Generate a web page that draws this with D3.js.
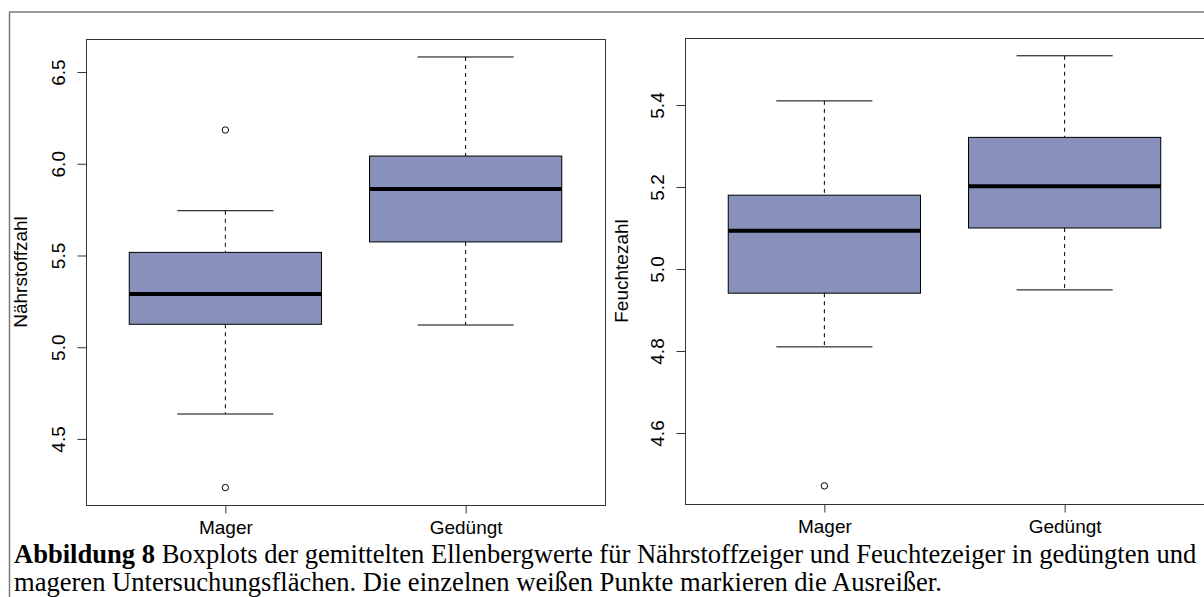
<!DOCTYPE html>
<html><head><meta charset="utf-8">
<script src="https://cdn.jsdelivr.net/npm/d3@7"></script>
<style>body{margin:0;background:#fff}svg{display:block}</style>
</head><body>
<svg id="c" width="1204" height="597"></svg>
<script>
const categories = ["Mager", "Gedüngt"];
// [whiskerLow, q1, median, q3, whiskerHigh]
const naehrstoffStats = [[4.636, 5.125, 5.290, 5.517, 5.744], [5.121, 5.574, 5.862, 6.042, 6.582]];
const naehrstoffOutliers = [[6.184, 4.235], []];
const feuchteStats = [[4.810, 4.941, 5.093, 5.180, 5.410], [4.949, 5.100, 5.202, 5.321, 5.520]];
const feuchteOutliers = [[4.471], []];
const naehrstoffTicks = [4.5, 5.0, 5.5, 6.0, 6.5];
const feuchteTicks = [4.6, 4.8, 5.0, 5.2, 5.4];
const captionBold = "Abbildung 8";
const captionLine1 = " Boxplots der gemittelten Ellenbergwerte für Nährstoffzeiger und Feuchtezeiger in gedüngten und";
const captionLine2 = "mageren Untersuchungsflächen. Die einzelnen weißen Punkte markieren die Ausreißer.";

const svg = d3.select("#c");
const FILL = "#8891bb";
const font = "'Liberation Sans', Arial, sans-serif";

const chartG = svg.append("g");

function panel(opts) {
  const {left, right, top, bottom, domain, stats, outliers, ticks, label, labelX, tickLabelX} = opts;
  const g = chartG.append("g");
  const y = d3.scaleLinear().domain(domain).range([bottom, top]);
  const x = d3.scaleLinear().domain([0.42, 2.58]).range([left, right]);
  g.append("rect").attr("x", left + 0.5).attr("y", top + 0.5)
    .attr("width", right - left).attr("height", bottom - top)
    .attr("fill", "none").attr("stroke", "#333").attr("stroke-width", 1);
  const yAxis = d3.axisLeft(y).tickValues(ticks).tickSize(9).tickFormat(d3.format(".1f"));
  const ya = g.append("g").attr("transform", `translate(${left + 0.5},0)`).call(yAxis);
  ya.select(".domain").remove();
  ya.selectAll(".tick line").attr("stroke", "#333");
  ya.selectAll(".tick text").remove();
  ya.selectAll(".tick").append("text")
    .attr("transform", `translate(${tickLabelX - left},0) rotate(-90)`)
    .attr("text-anchor", "middle").attr("dy", "0.35em")
    .attr("fill", "#000").attr("font-family", font).attr("font-size", 19)
    .text(d => d3.format(".1f")(d));
  const xAxis = d3.axisBottom(x).tickValues([1, 2]).tickSize(8).tickFormat((d) => categories[d - 1]);
  const xa = g.append("g").attr("transform", `translate(0,${bottom + 0.5})`).call(xAxis);
  xa.select(".domain").remove();
  xa.selectAll(".tick line").attr("stroke", "#333");
  xa.selectAll(".tick text").attr("y", 15).attr("dy", "0.71em")
    .attr("fill", "#000").attr("font-family", font).attr("font-size", 19);
  g.append("text").attr("transform", `translate(${labelX},${(top + bottom) / 2}) rotate(-90)`)
    .attr("text-anchor", "middle").attr("dy", "0.35em")
    .attr("font-family", font).attr("font-size", 19).attr("fill", "#000").text(label);
  stats.forEach((s, i) => {
    const cx = x(i + 1);
    const bw = x(1.4) - x(1);
    const cw = x(1.2) - x(1);
    const bg = g.append("g");
    bg.append("line").attr("x1", cx).attr("x2", cx).attr("y1", y(s[4])).attr("y2", y(s[3]))
      .attr("stroke", "#000").attr("stroke-dasharray", "4,4");
    bg.append("line").attr("x1", cx).attr("x2", cx).attr("y1", y(s[1])).attr("y2", y(s[0]))
      .attr("stroke", "#000").attr("stroke-dasharray", "4,4");
    bg.append("line").attr("x1", cx - cw).attr("x2", cx + cw).attr("y1", y(s[4])).attr("y2", y(s[4]))
      .attr("stroke", "#000");
    bg.append("line").attr("x1", cx - cw).attr("x2", cx + cw).attr("y1", y(s[0])).attr("y2", y(s[0]))
      .attr("stroke", "#000");
    bg.append("rect").attr("x", cx - bw).attr("y", y(s[3])).attr("width", 2 * bw)
      .attr("height", y(s[1]) - y(s[3])).attr("fill", FILL).attr("stroke", "#000").attr("stroke-width", 1);
    bg.append("line").attr("x1", cx - bw).attr("x2", cx + bw).attr("y1", y(s[2])).attr("y2", y(s[2]))
      .attr("stroke", "#000").attr("stroke-width", 4);
    outliers[i].forEach(o => {
      bg.append("circle").attr("cx", cx).attr("cy", y(o)).attr("r", 3.2)
        .attr("fill", "#fff").attr("stroke", "#000").attr("stroke-width", 1);
    });
  });
}

panel({left: 86, right: 605, top: 39, bottom: 505, domain: [4.140, 6.680],
  stats: naehrstoffStats, outliers: naehrstoffOutliers, ticks: naehrstoffTicks,
  label: "Nährstoffzahl", labelX: 20, tickLabelX: 58});
panel({left: 685, right: 1204, top: 38, bottom: 504, domain: [4.4268, 5.5634],
  stats: feuchteStats, outliers: feuchteOutliers, ticks: feuchteTicks,
  label: "Feuchtezahl", labelX: 621, tickLabelX: 657});

svg.append("line").attr("x1", 9).attr("x2", 1204).attr("y1", 12).attr("y2", 12)
  .attr("stroke", "#7a7a7a").attr("stroke-width", 1.5);
svg.append("line").attr("x1", 9.5).attr("x2", 9.5).attr("y1", 12).attr("y2", 597)
  .attr("stroke", "#7a7a7a").attr("stroke-width", 1.5);

const serif = "'Liberation Serif', 'Times New Roman', serif";
const t1 = svg.append("text").attr("x", 14).attr("y", 563)
  .attr("font-family", serif).attr("font-size", 24).attr("fill", "#000");
t1.append("tspan").attr("font-weight", "bold").text(captionBold);
t1.append("tspan").text(captionLine1);
const t2 = svg.append("text").attr("x", 14).attr("y", 591)
  .attr("font-family", serif).attr("font-size", 24).attr("fill", "#000").text(captionLine2);
const len = t1.node().getComputedTextLength();
const fs = 24 * 1183 / len;
t1.attr("font-size", fs); t2.attr("font-size", fs);
</script>
</body></html>
